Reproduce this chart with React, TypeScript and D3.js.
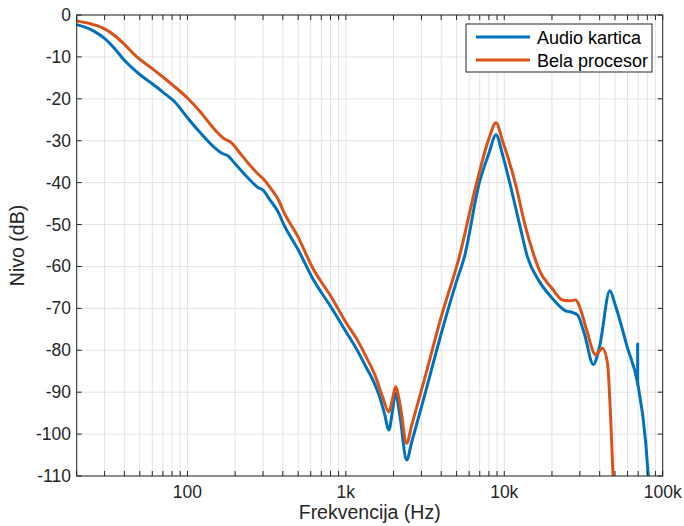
import React from 'react';
import * as d3 from 'd3';

// [frequency Hz, level dB]
const audioKartica: [number, number][] = [
  [20, -2.3], [25, -3.6], [30, -5.6], [35, -8.2], [40, -10.8], [45, -12.7], [50, -14.2], [60, -16.4],
  [70, -18.4], [83, -20.7], [100, -24.5], [120, -28], [150, -31.8], [165, -33], [180, -33.6],
  [200, -35.5], [250, -39.5], [280, -41.2], [300, -41.8], [330, -44], [380, -47.5], [400, -49.5],
  [500, -56], [620, -63], [800, -69.5], [1000, -75.5], [1200, -80.5], [1340, -84], [1520, -88],
  [1630, -91], [1750, -95], [1870, -99], [1960, -95], [2060, -90.3], [2200, -96], [2420, -106.2],
  [2600, -102], [3130, -91], [4000, -76], [5000, -63.5], [5600, -57.7], [6960, -40], [8000, -33],
  [8870, -28.6], [9700, -33], [10900, -40.5], [12500, -50], [14000, -57.7], [16600, -63.5],
  [20000, -67.5], [24400, -70.6], [27000, -71], [29000, -71.6], [32000, -76], [36500, -83.4],
  [40000, -79], [46400, -65.8], [50000, -69], [60000, -79.5], [69500, -87.9], [78200, -102.2],
  [81100, -110],
];

const audioSpike: [number, number][] = [[69500, -87.9], [69500, -78.5]];

const belaProcesor: [number, number][] = [
  [20, -1.4], [25, -2.2], [30, -3.3], [35, -5], [40, -7], [48, -10], [60, -12.8], [70, -14.8],
  [80, -16.6], [100, -19.8], [120, -23], [150, -27.5], [170, -29.5], [190, -30.5], [210, -32.5],
  [250, -36], [280, -38], [300, -39], [330, -41], [380, -44.5], [400, -46.5], [500, -53],
  [620, -60.5], [800, -67], [1000, -73.3], [1200, -78], [1340, -81.5], [1530, -86], [1700, -91],
  [1870, -94.7], [1960, -92], [2060, -88.7], [2200, -93], [2420, -102.2], [2600, -98],
  [3130, -87], [4000, -72], [5200, -57.7], [6700, -40], [8000, -29.5], [8870, -25.7],
  [9750, -30], [11800, -40.5], [13500, -50], [15500, -57.7], [16600, -60.8], [20000, -65.2],
  [23300, -68], [26000, -68.2], [28300, -68], [30000, -69.8], [33000, -75], [37800, -81.1],
  [41600, -79.5], [44800, -83], [47000, -96.7], [48600, -110],
];

const xMajorTicks = [100, 1000, 10000, 100000];
const xTickLabels = ['100', '1k', '10k', '100k'];
const yTicks = d3.range(-110, 1, 10);

const seriesNames = ['Audio kartica', 'Bela procesor'];
const colors = ['#0072BD', '#D95319'];

const App = () => {
  const W = 684;
  const H = 526;
  const left = 76.7, right = 662.7, top = 15, bottom = 476;
  const font = 'Arial, "Liberation Sans", sans-serif';

  const x = d3.scaleLog().domain([20, 100000]).range([left, right]);
  const y = d3.scaleLinear().domain([-110, 0]).range([bottom, top]);

  const allXTicks = x.ticks();

  const line = d3.line<[number, number]>()
    .x(d => x(d[0]))
    .y(d => y(d[1]))
    .curve(d3.curveMonotoneX);
  const straight = d3.line<[number, number]>()
    .x(d => x(d[0]))
    .y(d => y(d[1]));

  const tick = 5;
  const axisColor = '#262626';
  const gridColor = '#e3e3e3';

  return (
    <svg width={W} height={H} style={{ position: 'absolute', left: 0, top: 0, background: '#fff' }}>
      <defs>
        <clipPath id="plot">
          <rect x={left} y={top} width={right - left} height={bottom - top} />
        </clipPath>
      </defs>
      <rect x={left} y={top} width={right - left} height={bottom - top} fill="#fff" />

      {/* grid */}
      {allXTicks.map((t, i) => (
        <line key={'gx' + i} x1={x(t)} x2={x(t)} y1={top} y2={bottom} stroke={gridColor} strokeWidth={1} />
      ))}
      {yTicks.map(t => (
        <line key={'gy' + t} x1={left} x2={right} y1={y(t)} y2={y(t)} stroke={gridColor} strokeWidth={1} />
      ))}

      {/* curves */}
      <g clipPath="url(#plot)" fill="none" strokeLinejoin="round" strokeLinecap="round">
        <path d={line(audioKartica) || ''} stroke={colors[0]} strokeWidth={3} />
        <path d={straight(audioSpike) || ''} stroke={colors[0]} strokeWidth={3} />
        <path d={line(belaProcesor) || ''} stroke={colors[1]} strokeWidth={3} />
      </g>

      {/* ticks */}
      {allXTicks.map((t, i) => (
        <g key={'tx' + i} stroke={axisColor} strokeWidth={1}>
          <line x1={x(t)} x2={x(t)} y1={bottom} y2={bottom - tick} />
          <line x1={x(t)} x2={x(t)} y1={top} y2={top + tick} />
        </g>
      ))}
      {yTicks.map(t => (
        <g key={'ty' + t} stroke={axisColor} strokeWidth={1}>
          <line x1={left} x2={left + tick} y1={y(t)} y2={y(t)} />
          <line x1={right} x2={right - tick} y1={y(t)} y2={y(t)} />
        </g>
      ))}

      {/* box */}
      <rect x={left} y={top} width={right - left} height={bottom - top} fill="none" stroke={axisColor} strokeWidth={1} />

      {/* tick labels */}
      {xMajorTicks.map((t, i) => (
        <text key={'lx' + t} x={x(t)} y={498} textAnchor="middle" fontFamily={font} fontSize={17.5} fill="#262626">
          {xTickLabels[i]}
        </text>
      ))}
      {yTicks.map(t => (
        <text key={'ly' + t} x={71} y={y(t) + 6} textAnchor="end" fontFamily={font} fontSize={17.5} fill="#262626">
          {t}
        </text>
      ))}

      {/* axis labels */}
      <text x={(left + right) / 2} y={519} textAnchor="middle" fontFamily={font} fontSize={19.5} fill="#262626">
        Frekvencija (Hz)
      </text>
      <text transform={`translate(24,${(top + bottom) / 2}) rotate(-90)`} textAnchor="middle" fontFamily={font} fontSize={19.5} fill="#262626">
        Nivo (dB)
      </text>

      {/* legend */}
      <rect x={466} y={24} width={186} height={48} fill="#fff" stroke={axisColor} strokeWidth={1} />
      {seriesNames.map((name, i) => (
        <g key={name}>
          <line x1={476} x2={530} y1={37 + i * 23} y2={37 + i * 23} stroke={colors[i]} strokeWidth={3} />
          <text x={537} y={43.5 + i * 23} fontFamily={font} fontSize={18} fill="#000">
            {name}
          </text>
        </g>
      ))}
    </svg>
  );
};

export default App;
